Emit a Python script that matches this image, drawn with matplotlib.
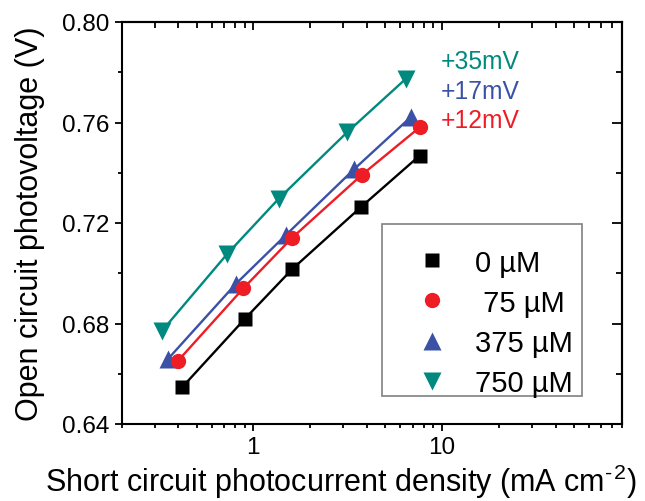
import matplotlib
matplotlib.use("Agg")
import matplotlib.pyplot as plt
from matplotlib.ticker import LogLocator, FuncFormatter, MultipleLocator, NullFormatter
from matplotlib.patches import Rectangle

plt.rcParams['font.family'] = ['Liberation Sans', 'DejaVu Sans']

# ---- data ----
labels = ["0 \u00b5M", " 75 \u00b5M", "375 \u00b5M", "750 \u00b5M"]
x_0 = [0.419, 0.90, 1.61, 3.74, 7.61]
y_0 = [0.6546, 0.6818, 0.7017, 0.7265, 0.7468]
x_75 = [0.399, 0.885, 1.60, 3.75, 7.68]
y_75 = [0.6652, 0.6940, 0.7140, 0.7391, 0.7583]
x_375 = [0.353, 0.806, 1.487, 3.43, 6.82]
y_375 = [0.6659, 0.6957, 0.7152, 0.7415, 0.7621]
x_750 = [0.328, 0.727, 1.36, 3.14, 6.41]
y_750 = [0.6771, 0.7077, 0.7296, 0.7561, 0.7773]
shift_labels = ["+35mV", "+17mV", "+12mV"]

colors = ["#000000", "#ee1c25", "#3a51a6", "#00897e"]
markers = ["s", "o", "^", "v"]
msizes = [10.5, 11, 13.5, 13.5]

W, H = 645, 502
fig = plt.figure(figsize=(W / 100, H / 100), dpi=100)
L, R, T, B = 121.5, 622, 23, 425
ax = fig.add_axes([L / W, 1 - B / H, (R - L) / W, (B - T) / H])

series = [(x_0, y_0), (x_75, y_75), (x_375, y_375), (x_750, y_750)]
order = [0, 3, 2, 1]
handles = {}
for i in order:
    xs, ys = series[i]
    ln, = ax.plot(xs, ys, color=colors[i], lw=1.7, marker=markers[i],
                  ms=msizes[i], mec='none', mfc=colors[i], zorder=3 + (i == 1))
    handles[i] = ln

ax.set_xscale('log')
ax.set_xlim(0.2, 90)
ax.set_ylim(0.64, 0.80)

ax.xaxis.set_major_locator(LogLocator(base=10, numticks=10))
ax.xaxis.set_minor_locator(LogLocator(base=10, subs=range(2, 10), numticks=20))
ax.xaxis.set_major_formatter(FuncFormatter(lambda v, p: f"{v:g}"))
ax.xaxis.set_minor_formatter(NullFormatter())
ax.yaxis.set_major_locator(MultipleLocator(0.04))
ax.yaxis.set_minor_locator(MultipleLocator(0.02))
ax.yaxis.set_major_formatter(FuncFormatter(lambda v, p: f"{v:.2f}"))

for s in ax.spines.values():
    s.set_linewidth(1.5)

ax.tick_params(which='major', direction='out', length=5, width=1.3, labelsize=17.5, pad=4)
ax.tick_params(which='minor', direction='out', length=3, width=1.3)

# top / right ticks pointing inward
secx = ax.secondary_xaxis('top')
secx.xaxis.set_major_locator(LogLocator(base=10, numticks=10))
secx.xaxis.set_minor_locator(LogLocator(base=10, subs=range(2, 10), numticks=20))
secx.tick_params(which='major', direction='in', length=6, width=1.3, labeltop=False)
secx.tick_params(which='minor', direction='in', length=4, width=1.3)
secx.xaxis.set_major_formatter(NullFormatter())
secx.xaxis.set_minor_formatter(NullFormatter())
secx.spines['top'].set_linewidth(1.5)
secy = ax.secondary_yaxis('right')
secy.yaxis.set_major_locator(MultipleLocator(0.04))
secy.yaxis.set_minor_locator(MultipleLocator(0.02))
secy.tick_params(which='major', direction='in', length=7, width=1.3, labelright=False)
secy.tick_params(which='minor', direction='in', length=4, width=1.3)
secy.yaxis.set_major_formatter(NullFormatter())
secy.spines['right'].set_linewidth(1.5)

ax.set_xlabel("Short circuit photocurrent density (mA cm$^{\\mathregular{\u2010\u200a2}}$)", fontsize=22)
ax.set_ylabel("Open circuit photovoltage (V)", fontsize=22)
ax.xaxis.set_label_coords((341 - L) / (R - L), (B - 463) / (B - T))
ax.yaxis.set_label_coords((45 - L) / (R - L), 0.5)

# shift annotations
ann_y = [61.7, 91.7, 120.5]
ann_c = [colors[3], colors[2], colors[1]]
for txt, py, c in zip(shift_labels, ann_y, ann_c):
    fig.text(441 / W, 1 - py / H, txt, color=c, fontsize=17.7, ha='left', va='center')

# legend frame
fx0, fx1, fy0, fy1 = 381.7, 582.3, 225, 396.7
ax.add_patch(Rectangle(((fx0 - L) / (R - L), (B - fy1) / (B - T)),
                       (fx1 - fx0) / (R - L), (fy1 - fy0) / (B - T),
                       transform=ax.transAxes, fill=False, ec='#808080', lw=1.2, zorder=5))

leg = ax.legend([handles[i] for i in range(4)], labels, loc='upper left',
                bbox_to_anchor=((417 - L) / (R - L), (B - 249.5) / (B - T)),
                frameon=False, fontsize=21, numpoints=1, borderpad=0, borderaxespad=0,
                handlelength=1.0, handletextpad=1.0, labelspacing=0.415)
for h in leg.legend_handles:
    h.set_linestyle('none')

fig.savefig("out.png", dpi=100)
